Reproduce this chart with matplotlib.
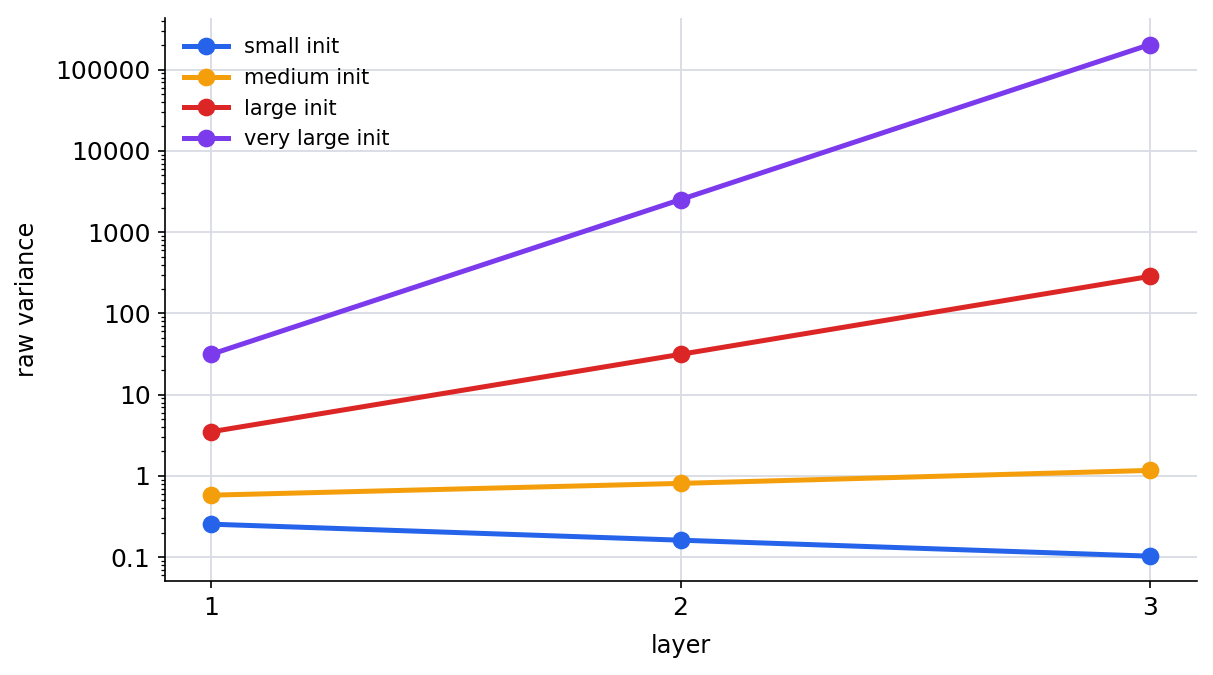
import matplotlib
matplotlib.use('Agg')
import matplotlib.pyplot as plt
from matplotlib.ticker import FuncFormatter, LogLocator

layers = [1, 2, 3]
small = [0.255, 0.162, 0.103]
medium = [0.58, 0.81, 1.17]
large = [3.5, 31.4, 286]
very_large = [31.4, 2520, 204000]

fig, ax = plt.subplots(figsize=(8.093, 4.5), dpi=150)

ax.plot(layers, small, 'o-', color='#2563eb', lw=2.4, ms=7.5, label='small init')
ax.plot(layers, medium, 'o-', color='#f59e0b', lw=2.4, ms=7.5, label='medium init')
ax.plot(layers, large, 'o-', color='#dc2626', lw=2.4, ms=7.5, label='large init')
ax.plot(layers, very_large, 'o-', color='#7c3aed', lw=2.4, ms=7.5, label='very large init')

ax.set_yscale('log')
ax.yaxis.set_major_locator(LogLocator(base=10))
ax.yaxis.set_major_formatter(FuncFormatter(lambda v, p: '%g' % v if v < 1 else '%d' % round(v)))
ax.set_xticks(layers)
ax.set_xlim(0.902, 3.1)
ax.set_ylim(0.0507, 4.3e5)
ax.tick_params(labelsize=12)

ax.grid(True, color='#d9dce3', lw=0.9)
ax.set_axisbelow(True)
ax.spines['top'].set_visible(False)
ax.spines['right'].set_visible(False)

ax.set_xlabel('layer', fontsize=11.5, labelpad=7)
ax.set_ylabel('raw variance', fontsize=11.5, labelpad=8)
ax.legend(loc='upper left', frameon=False, fontsize=10, handlelength=2.1,
          labelspacing=0.52)

fig.subplots_adjust(left=0.136, right=0.986, bottom=0.139, top=0.973)
fig.savefig('out.png', dpi=150)
